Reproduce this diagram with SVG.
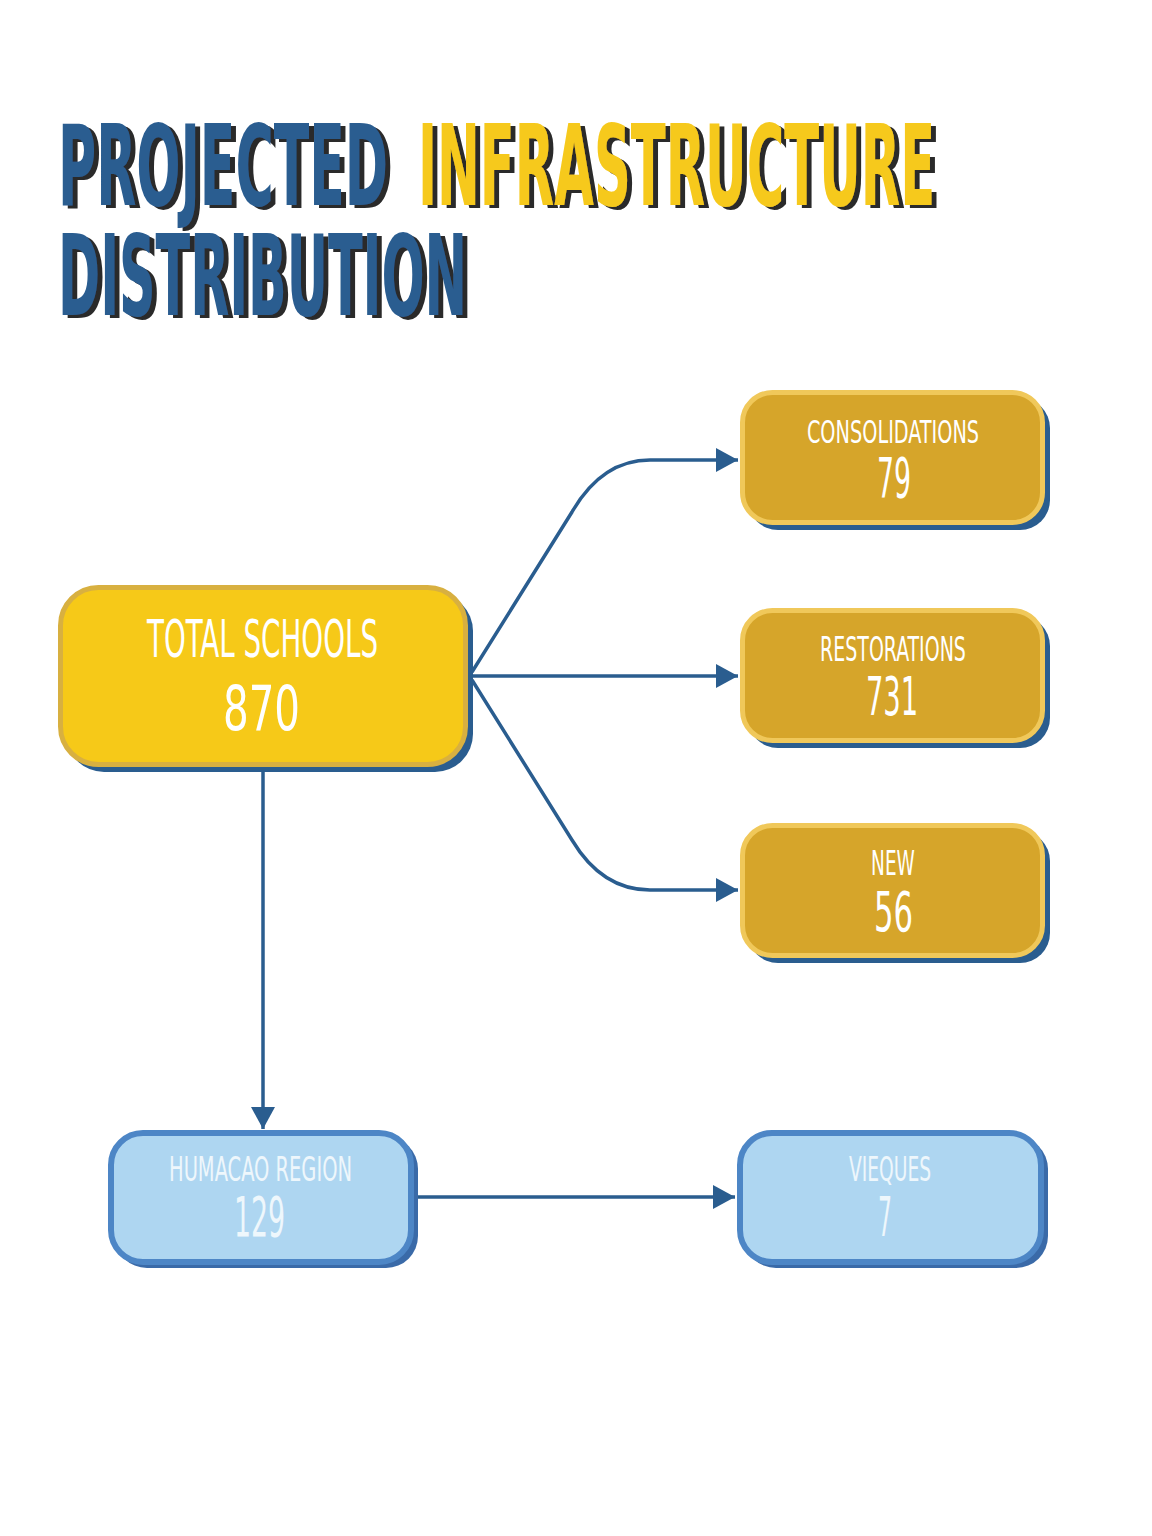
<svg xmlns="http://www.w3.org/2000/svg" width="1152" height="1536" viewBox="0 0 1152 1536">
<defs>
<marker id="arr" markerUnits="userSpaceOnUse" markerWidth="24" markerHeight="26" refX="22" refY="12" orient="auto">
<path d="M0,0 L22,12 L0,24 Z" fill="#2a5d8f"/>
</marker>
<filter id="tshadow" x="-5%" y="-10%" width="110%" height="130%">
<feOffset in="SourceAlpha" dx="5" dy="3" result="off"/>
<feFlood flood-color="#2b2b2b"/>
<feComposite in2="off" operator="in" result="sh"/>
<feMerge><feMergeNode in="sh"/><feMergeNode in="SourceGraphic"/></feMerge>
</filter>
<style>
.title{font-family:"DejaVu Sans Condensed","Liberation Sans Narrow","Liberation Sans",sans-serif;font-weight:bold;font-size:112px;text-anchor:start}
.blue{fill:#2b5d90}
.yellow{fill:#f6c91c}
.lbl{font-family:"DejaVu Sans Condensed","Liberation Sans Narrow","Liberation Sans",sans-serif;fill:#ffffff;text-anchor:middle}
.conn{fill:none;stroke:#2a5d8f;stroke-width:3.5}
.sh{fill:#2a5d8f}
.main{fill:#f6c918;stroke:#d8b040;stroke-width:5}
.gold{fill:#d6a52a;stroke:#f0c85a;stroke-width:5}
.lb{fill:#aed6f1;stroke:#4d86c6;stroke-width:6}
.lbsh{fill:#3a6aa8}
.lbtxt{fill:#eef7fc}
</style>
</defs>
<rect width="1152" height="1536" fill="#ffffff"/>
<g id="title" filter="url(#tshadow)">
<text class="title blue" transform="translate(58,205) scale(0.51,1)" x="0" y="0" textLength="647" lengthAdjust="spacingAndGlyphs">PROJECTED</text>
<text class="title yellow" transform="translate(418,205) scale(0.51,1)" x="0" y="0" textLength="1014" lengthAdjust="spacingAndGlyphs">INFRASTRUCTURE</text>
<text class="title blue" transform="translate(58,315) scale(0.51,1)" x="0" y="0" textLength="802" lengthAdjust="spacingAndGlyphs">DISTRIBUTION</text>
</g>
<g id="connectors">
<path class="conn" d="M472,672 L572,512 Q602,460 650,460 L738,460" marker-end="url(#arr)"/>
<path class="conn" d="M472,676 L738,676" marker-end="url(#arr)"/>
<path class="conn" d="M472,680 L572,840 Q602,890 650,890 L738,890" marker-end="url(#arr)"/>
<path class="conn" d="M263,770 L263,1129" marker-end="url(#arr)"/>
<path class="conn" d="M418,1197 L735,1197" marker-end="url(#arr)"/>
</g>
<g id="node-total">
<rect class="sh" x="66" y="593" width="407" height="179" rx="38"/>
<rect class="main" x="60.5" y="587.5" width="405" height="177" rx="38"/>
<text class="lbl" transform="translate(262.5,657) scale(0.6,1)" x="0" y="0" font-size="52" textLength="385" lengthAdjust="spacingAndGlyphs">TOTAL SCHOOLS</text>
<text class="lbl" transform="translate(261.5,730) scale(0.72,1)" x="0" y="0" font-size="62" textLength="107" lengthAdjust="spacingAndGlyphs">870</text>
</g>
<g id="node-consolidations">
<rect class="sh" x="748" y="398" width="302" height="132" rx="30"/>
<rect class="gold" x="742.5" y="392.5" width="300" height="130" rx="30"/>
<text class="lbl" transform="translate(893,443) scale(0.6,1)" x="0" y="0" font-size="32" textLength="287" lengthAdjust="spacingAndGlyphs">CONSOLIDATIONS</text>
<text class="lbl" transform="translate(894,497) scale(0.55,1)" x="0" y="0" font-size="56" textLength="62" lengthAdjust="spacingAndGlyphs">79</text>
</g>
<g id="node-restorations">
<rect class="sh" x="748" y="616" width="302" height="132" rx="30"/>
<rect class="gold" x="742.5" y="610.5" width="300" height="130" rx="30"/>
<text class="lbl" transform="translate(893,661) scale(0.6,1)" x="0" y="0" font-size="33" textLength="243" lengthAdjust="spacingAndGlyphs">RESTORATIONS</text>
<text class="lbl" transform="translate(892,715) scale(0.55,1)" x="0" y="0" font-size="53" textLength="95" lengthAdjust="spacingAndGlyphs">731</text>
</g>
<g id="node-new">
<rect class="sh" x="748" y="831" width="302" height="132" rx="30"/>
<rect class="gold" x="742.5" y="825.5" width="300" height="130" rx="30"/>
<text class="lbl" transform="translate(893,875) scale(0.6,1)" x="0" y="0" font-size="34" textLength="73" lengthAdjust="spacingAndGlyphs">NEW</text>
<text class="lbl" transform="translate(893.5,931) scale(0.6,1)" x="0" y="0" font-size="56" textLength="65" lengthAdjust="spacingAndGlyphs">56</text>
</g>
<g id="node-humacao">
<rect class="lbsh" x="115" y="1137" width="303" height="131" rx="32"/>
<rect class="lb" x="111" y="1133" width="300" height="129" rx="32"/>
<text class="lbl lbtxt" transform="translate(260.5,1181) scale(0.6,1)" x="0" y="0" font-size="33" textLength="305" lengthAdjust="spacingAndGlyphs">HUMACAO REGION</text>
<text class="lbl lbtxt" transform="translate(259.5,1236) scale(0.55,1)" x="0" y="0" font-size="56" textLength="93" lengthAdjust="spacingAndGlyphs">129</text>
</g>
<g id="node-vieques">
<rect class="lbsh" x="744" y="1137" width="304" height="131" rx="32"/>
<rect class="lb" x="740" y="1133" width="301" height="129" rx="32"/>
<text class="lbl lbtxt" transform="translate(890,1181) scale(0.6,1)" x="0" y="0" font-size="33" textLength="137" lengthAdjust="spacingAndGlyphs">VIEQUES</text>
<text class="lbl lbtxt" transform="translate(885,1236) scale(0.5,1)" x="0" y="0" font-size="56" textLength="28" lengthAdjust="spacingAndGlyphs">7</text>
</g>
</svg>
